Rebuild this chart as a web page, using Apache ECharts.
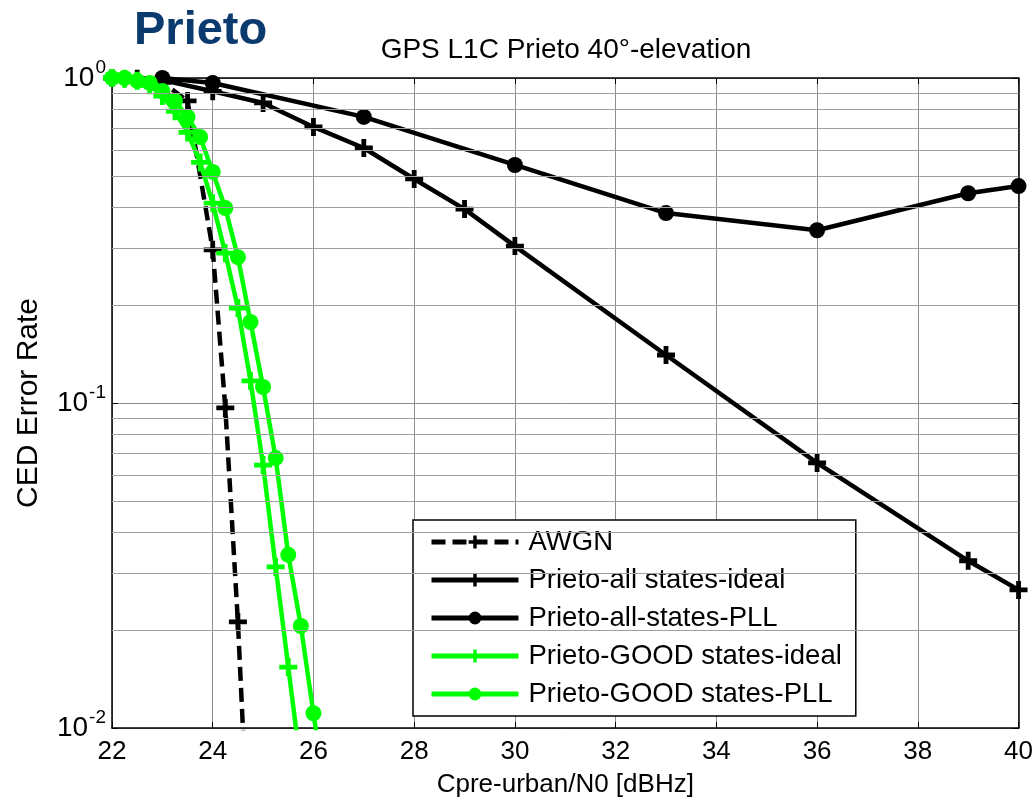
<!DOCTYPE html>
<html>
<head>
<meta charset="utf-8">
<script src="https://cdn.jsdelivr.net/npm/echarts@6/dist/echarts.min.js"></script>
<style>
  html, body { margin: 0; padding: 0; background: #ffffff; }
  #chart { width: 1036px; height: 805px; }
</style>
</head>
<body>
<div id="chart"></div>
<script>
// C/N0 sample points (dBHz) and CED error rates per curve
const awgnX = [22, 22.5, 23, 23.5, 24, 24.25, 24.5, 24.75];
const awgnY = [1.0, 0.995, 0.97, 0.85, 0.296, 0.0966, 0.0212, 0.0032];

const allIdealX = [23, 24, 25, 26, 27, 28, 29, 30, 33, 36, 39, 40];
const allIdealY = [0.985, 0.91, 0.838, 0.707, 0.609, 0.489, 0.395, 0.304, 0.1405, 0.0654, 0.0327, 0.0266];

const allPllX = [23, 24, 27, 30, 33, 36, 39, 40];
const allPllY = [1.0, 0.965, 0.759, 0.54, 0.384, 0.34, 0.442, 0.465];

const goodIdealX = [22, 22.25, 22.5, 22.75, 23, 23.25, 23.5, 23.75, 24, 24.25, 24.5, 24.75, 25, 25.25, 25.5, 25.75];
const goodIdealY = [1.0, 0.995, 0.98, 0.95, 0.88, 0.79, 0.68, 0.55, 0.412, 0.289, 0.196, 0.117, 0.0644, 0.0313, 0.0154, 0.0076];

const goodPllX = [22, 22.25, 22.5, 22.75, 23, 23.25, 23.5, 23.75, 24, 24.25, 24.5, 24.75, 25, 25.25, 25.5, 25.75, 26, 26.25];
const goodPllY = [1.0, 1.0, 0.98, 0.965, 0.912, 0.85, 0.759, 0.658, 0.514, 0.398, 0.281, 0.1775, 0.112, 0.0677, 0.0341, 0.0206, 0.0111, 0.006];

// decade tick labels (exponents of 10) and the log-scale minor grid values
const yTickExponents = { '1': '0', '0.1': '-1', '0.01': '-2' };
const minorGridValues = [0.02, 0.03, 0.04, 0.05, 0.06, 0.07, 0.08, 0.09,
                         0.2, 0.3, 0.4, 0.5, 0.6, 0.7, 0.8, 0.9];

const FONT = 'Liberation Sans, Arial, sans-serif';
const PLUS = 'path://M4.4,0H7.6V4.4H12V7.6H7.6V12H4.4V7.6H0V4.4H4.4Z';
const GREEN = '#00ff00';

const zip = (xs, ys) => xs.map((x, i) => [x, ys[i]]);

const chart = echarts.init(document.getElementById('chart'), null, { renderer: 'canvas' });

const axisLineStyle = { color: '#000', width: 1.5 };

function lineSeries(name, xs, ys, color, symbol, size, dashed) {
  return {
    name: name,
    type: 'line',
    data: zip(xs, ys),
    symbol: symbol,
    symbolSize: size,
    showAllSymbol: true,
    clip: true,
    lineStyle: { color: color, width: 4.5, type: dashed ? [14, 7] : 'solid' },
    itemStyle: { color: color, borderWidth: 0 },
    emphasis: { disabled: true },
    animation: false
  };
}

const series = [
  lineSeries('AWGN', awgnX, awgnY, '#000', PLUS, 18, true),
  lineSeries('Prieto-all states-ideal', allIdealX, allIdealY, '#000', PLUS, 18, false),
  lineSeries('Prieto-all-states-PLL', allPllX, allPllY, '#000', 'circle', 16, false),
  lineSeries('Prieto-GOOD states-ideal', goodIdealX, goodIdealY, GREEN, PLUS, 18, false),
  lineSeries('Prieto-GOOD states-PLL', goodPllX, goodPllY, GREEN, 'circle', 16, false)
];

// light horizontal grid at 2..9 of each decade
series[0].markLine = {
  silent: true,
  symbol: 'none',
  label: { show: false },
  lineStyle: { color: '#a0a0a0', width: 1.2, type: 'solid' },
  data: minorGridValues.map(v => ({ yAxis: v })),
  animation: false
};

chart.setOption({
  animation: false,
  backgroundColor: '#ffffff',
  title: [
    {
      text: 'GPS L1C Prieto 40°-elevation',
      left: 561, top: 31, textAlign: 'center',
      textStyle: { fontFamily: FONT, fontSize: 28, fontWeight: 'normal', color: '#000' }
    }
  ],
  graphic: [
    {
      type: 'text',
      left: 134, top: 8,
      style: { text: 'Prieto', font: 'bold 47px ' + FONT, fill: '#0b3a6e' }
    }
  ],
  legend: {
    orient: 'vertical',
    left: 413, top: 520,
    padding: [8, 14, 8, 16],
    itemWidth: 87, itemHeight: 16, itemGap: 10,
    backgroundColor: '#fff',
    borderColor: '#000', borderWidth: 1.5, borderRadius: 0,
    lineStyle: { width: 5 },
    textStyle: { fontFamily: FONT, fontSize: 27.5, color: '#000', padding: [0, 0, 0, 5] },
    selectedMode: false,
    data: series.map(s => s.name)
  },
  grid: { left: 112, right: 15, top: 78, bottom: 77, containLabel: false },
  xAxis: [
    {
      type: 'value', min: 22, max: 40, interval: 2, position: 'bottom',
      axisLine: { show: true, onZero: false, lineStyle: axisLineStyle },
      axisTick: { show: true, inside: true, length: 6, lineStyle: { color: '#000' } },
      axisLabel: { margin: 11, fontFamily: FONT, fontSize: 26, color: '#000' },
      splitLine: { show: true, lineStyle: { color: '#8c8c8c', width: 1 } },
      name: 'Cpre-urban/N0 [dBHz]', nameLocation: 'middle', nameGap: 44,
      nameTextStyle: { fontFamily: FONT, fontSize: 26, color: '#000' }
    },
    {
      type: 'value', min: 22, max: 40, interval: 2, position: 'top',
      axisLine: { show: true, onZero: false, lineStyle: axisLineStyle },
      axisTick: { show: true, inside: true, length: 6, lineStyle: { color: '#000' } },
      axisLabel: { show: false }, splitLine: { show: false }
    }
  ],
  yAxis: [
    {
      type: 'log', logBase: 10, min: 0.01, max: 1, position: 'left',
      axisLine: { show: true, onZero: false, lineStyle: axisLineStyle },
      axisTick: { show: true, inside: true, length: 6, lineStyle: { color: '#000' } },
      axisLabel: {
        margin: 6, color: '#000',
        formatter: v => '{b|10}{s|' + (yTickExponents[String(+v.toPrecision(3))] || '') + '}',
        rich: {
          b: { fontFamily: FONT, fontSize: 28, color: '#000' },
          s: { fontFamily: FONT, fontSize: 19, color: '#000', padding: [0, 0, 20, 1] }
        }
      },
      splitLine: { show: true, lineStyle: { color: '#8c8c8c', width: 1 } },
      name: 'CED Error Rate', nameLocation: 'middle', nameGap: 68, nameRotate: 90,
      nameTextStyle: { fontFamily: FONT, fontSize: 30, color: '#000' }
    },
    {
      type: 'log', logBase: 10, min: 0.01, max: 1, position: 'right',
      axisLine: { show: true, onZero: false, lineStyle: axisLineStyle },
      axisTick: { show: true, inside: true, length: 6, lineStyle: { color: '#000' } },
      axisLabel: { show: false }, splitLine: { show: false }
    }
  ],
  series: series
});
</script>
</body>
</html>
